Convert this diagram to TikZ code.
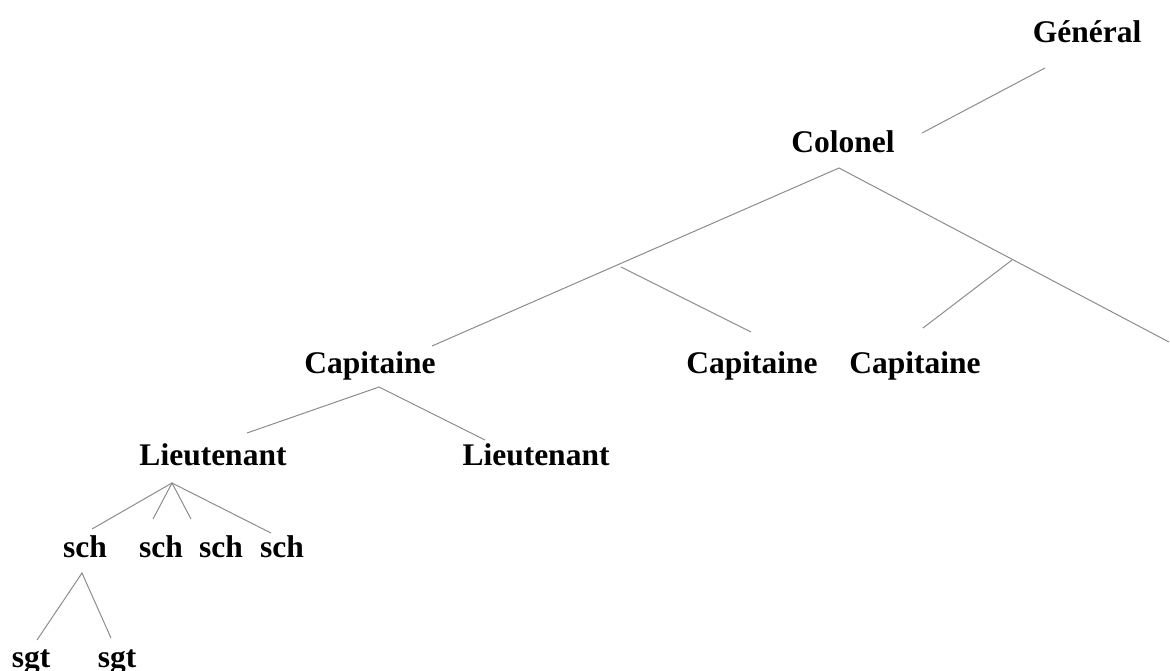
\documentclass[tikz,border=0pt]{standalone}
\usepackage{fontspec}
\setmainfont{Liberation Serif}
\begin{document}
\begin{tikzpicture}[x=1pt,y=-1pt,
  lbl/.style={anchor=base,inner sep=0pt,font=\fontsize{31.5}{36}\selectfont\bfseries},
  edge/.style={draw=black!45,line width=1pt}]
\useasboundingbox (0,0) rectangle (1170,670);
% labels
\node[lbl] (gen)  at (1087,42)  {Général};
\node[lbl] (col)  at (843,152)  {Colonel};
\node[lbl] (cap1) at (370,373)  {Capitaine};
\node[lbl] (cap2) at (752,373)  {Capitaine};
\node[lbl] (cap3) at (915,373)  {Capitaine};
\node[lbl] (lt1)  at (213,465)  {Lieutenant};
\node[lbl] (lt2)  at (536,465)  {Lieutenant};
\node[lbl] (sch1) at (85,557)   {sch};
\node[lbl] (sch2) at (161,557)  {sch};
\node[lbl] (sch3) at (221,557)  {sch};
\node[lbl] (sch4) at (282,557)  {sch};
\node[lbl] (sgt1) at (31,667)   {sgt};
\node[lbl] (sgt2) at (117,667)  {sgt};
% connector end points
\coordinate (gA) at (1045,68);  \coordinate (gB) at (922,133);
\coordinate (cA) at (839,168);  \coordinate (cL) at (432,346); \coordinate (cR) at (1169,342);
\coordinate (bA) at (621,267);  \coordinate (bB) at (751,332);
\coordinate (dA) at (1012,260); \coordinate (dB) at (923,328);
\coordinate (pA) at (379,387);  \coordinate (pL) at (247,433); \coordinate (pR) at (485,440);
\coordinate (lA) at (172,483);
\coordinate (l1) at (92,529); \coordinate (l2) at (153,519); \coordinate (l3) at (191,519); \coordinate (l4) at (271,533);
\coordinate (sA) at (82,573);   \coordinate (s1) at (37,640);  \coordinate (s2) at (111,638);
% connectors
\draw[edge] (gA) -- (gB);
\draw[edge] (cL) -- (cA) -- (cR);
\draw[edge] (bA) -- (bB);
\draw[edge] (dA) -- (dB);
\draw[edge] (pL) -- (pA) -- (pR);
\draw[edge] (l1) -- (lA) -- (l4);
\draw[edge] (l2) -- (lA) -- (l3);
\draw[edge] (s1) -- (sA) -- (s2);
\end{tikzpicture}
\end{document}
